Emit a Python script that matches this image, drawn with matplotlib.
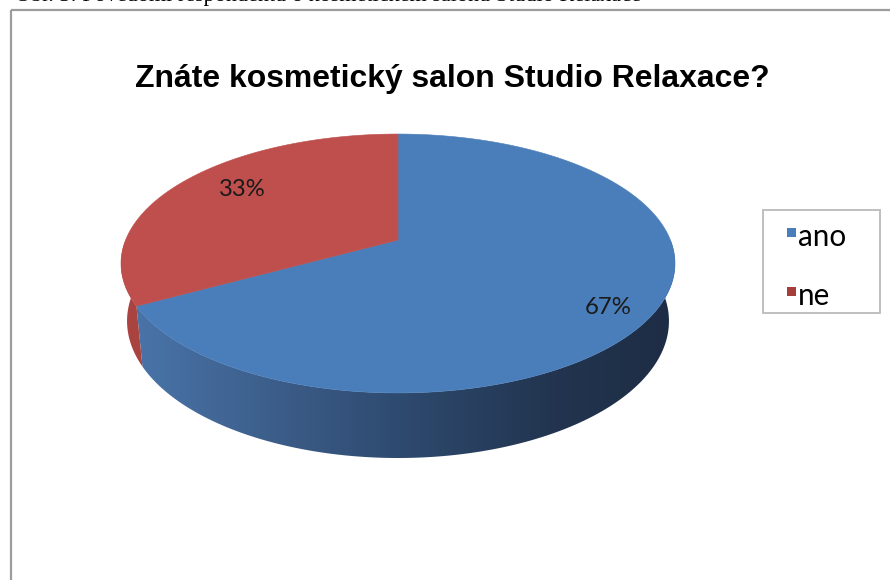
import numpy as np
import matplotlib
matplotlib.use('Agg')
import matplotlib.pyplot as plt
from matplotlib.patches import Polygon, Rectangle
from matplotlib.colors import LinearSegmentedColormap

# ---- data ----
categories = ['ano', 'ne']
values = [67, 33]
pct_labels = ['67%', '33%']
title = 'Znáte kosmetický salon Studio Relaxace?'
caption = 'Obr. 3: Povědomí respondentů o kosmetickém salonu Studio Relaxace'

top_colors = ['#4A7EBA', '#BE4F4C']
legend_colors = ['#4A7EBA', '#A33E3B']
wall_cmaps = [
    LinearSegmentedColormap.from_list('b', [(0.0, '#4C78AE'), (0.32, '#3A5A85'),
                                            (0.5, '#2E4A6F'), (0.77, '#22344F'), (1.0, '#1D2C43')]),
    LinearSegmentedColormap.from_list('r', [(0.0, '#AC4541'), (0.5, '#8A3532'), (1.0, '#5E2422')]),
]

W, H = 890, 580
fig = plt.figure(figsize=(W / 100, H / 100), dpi=100)
ax = fig.add_axes([0, 0, 1, 1])
ax.set_xlim(0, W)
ax.set_ylim(H, 0)
ax.axis('off')

# perspective projection of a flat cylinder
cx, cy = 398.0, 240.0
d_, c_, s_ = 4.915, 0.892, 0.452
fx, fy = 1338.8, 1361.4
depth = 0.2345


def proj(theta_deg, z, r=1.0):
    t = np.radians(theta_deg)
    X = r * np.cos(t)
    Y = r * np.sin(t)
    dd = d_ + Y * c_ - z * s_
    xs = cx + fx * X / dd
    ys = cy - fy * (Y * s_ + z * c_) / dd
    return xs, ys


vals = np.array(values, dtype=float)
fr = vals / vals.sum()
bounds = 90 - 360 * np.concatenate([[0], np.cumsum(fr)])

gx0, gx1 = 110, 690
grad = np.linspace(0, 1, 400)[None, :]

# walls (front-facing part)
for i in range(len(values)):
    lo, hi = bounds[i + 1], bounds[i]
    for k in (-1, 0, 1):
        a = max(lo + 360 * k, -180)
        b = min(hi + 360 * k, 0)
        if b > a:
            th = np.linspace(a, b, 200)
            xt, yt = proj(th, 0.0)
            xb, yb = proj(th[::-1], -depth)
            pts = np.column_stack([np.concatenate([xt, xb]), np.concatenate([yt, yb])])
            poly = Polygon(pts, closed=True, transform=ax.transData)
            im = ax.imshow(grad, cmap=wall_cmaps[i], extent=[gx0, gx1, 480, 120],
                           aspect='auto', interpolation='bilinear', zorder=2)
            im.set_clip_path(poly)

# top faces
for i in range(len(values)):
    th = np.linspace(bounds[i], bounds[i + 1], 300)
    xs, ys = proj(th, 0.0)
    pts = np.column_stack([np.concatenate([[cx], xs]), np.concatenate([[cy], ys])])
    ax.add_patch(Polygon(pts, closed=True, facecolor=top_colors[i],
                         edgecolor=top_colors[i], lw=0.4, zorder=3))

ax.set_xlim(0, W)
ax.set_ylim(H, 0)

renderer = fig.canvas.get_renderer()


def fit(txt, target_w):
    bb = txt.get_window_extent(renderer=renderer)
    txt.set_fontsize(txt.get_fontsize() * target_w / bb.width)


# data labels
label_pos = [(608, 307), (242, 190)]
for lab, (x, y) in zip(pct_labels, label_pos):
    t = ax.text(x, y, lab, ha='center', va='center', fontsize=17,
                family='Lato', color='#1a1a1a', zorder=5)
    fit(t, 47)

# title
tt = ax.text(452, 79, title, ha='center', va='center', fontsize=20,
             family='Liberation Sans', fontweight='bold', color='black', zorder=5)
fit(tt, 634)

# legend
ax.add_patch(Rectangle((763, 210), 117, 103, facecolor='white',
                       edgecolor='#BFBFBF', lw=1.4, zorder=4))
leg_y = [238, 297]
legfs = None
for i, cat in enumerate(categories):
    ax.add_patch(Rectangle((787, leg_y[i] - 10), 9, 9, facecolor=legend_colors[i],
                           edgecolor='none', zorder=5))
    t = ax.text(798, leg_y[i] + 8, cat, ha='left', va='baseline', fontsize=20,
                family='Lato', color='black', zorder=5)
    if legfs is None:
        fit(t, 48)
        legfs = t.get_fontsize()
    else:
        t.set_fontsize(legfs)

# outer frame (partially visible)
ax.plot([10.5, 10.5], [600, 10], color='#9C9C9C', lw=1.6, zorder=6, clip_on=False,
        solid_capstyle='butt')
ax.plot([10.5, 900], [10, 10], color='#9C9C9C', lw=1.6, zorder=6, clip_on=False,
        solid_capstyle='butt')

# caption of the page, cut off at the top of the image as in the source
ax.text(15, 1.0, caption, ha='left', va='baseline', fontsize=16,
        family='Liberation Serif', color='black', zorder=6)

fig.savefig('out.png', dpi=100)
